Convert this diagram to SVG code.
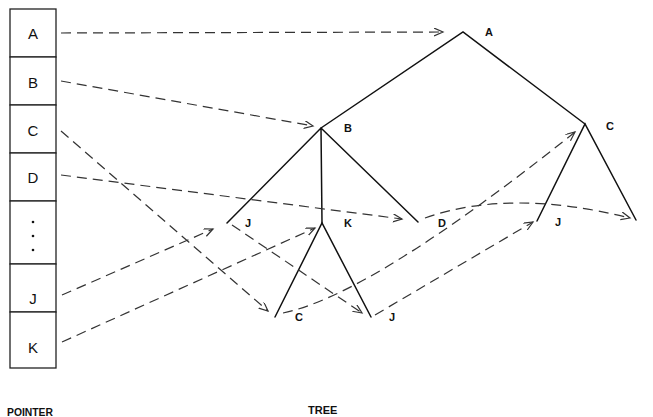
<svg xmlns="http://www.w3.org/2000/svg" width="653" height="417" viewBox="0 0 653 417">
<style>
.cell{fill:#fff;stroke:#222;stroke-width:1.3}
.ct{font-family:"Liberation Sans",Arial,sans-serif;font-size:15px;fill:#111;text-anchor:middle}
.edge{stroke:#111;stroke-width:1.5;fill:none;stroke-linecap:round}
.nl{font-family:"Liberation Sans",Arial,sans-serif;font-size:11px;font-weight:bold;fill:#111}
.ptr{stroke:#333;stroke-width:1.2;fill:none;stroke-dasharray:10 6;marker-end:url(#ah)}
.cap{font-family:"Liberation Sans",Arial,sans-serif;font-size:11px;font-weight:bold;fill:#111}
</style>
<defs>
<marker id="ah" markerUnits="userSpaceOnUse" markerWidth="12" markerHeight="10" refX="9" refY="4" orient="auto">
<path d="M0,0 L9,4 L0,8" fill="none" stroke="#333" stroke-width="1.2"/>
</marker>
</defs>
<rect width="653" height="417" fill="#fff"/>
<g id="pointer">
<rect class="cell" x="10" y="9" width="46" height="48"/>
<rect class="cell" x="10" y="57" width="46" height="48"/>
<rect class="cell" x="10" y="105" width="46" height="48"/>
<rect class="cell" x="10" y="153" width="46" height="48"/>
<rect class="cell" x="10" y="201" width="46" height="63"/>
<rect class="cell" x="10" y="264" width="46" height="48"/>
<rect class="cell" x="10" y="312" width="46" height="56"/>
<text class="ct" x="33" y="39">A</text>
<text class="ct" x="33" y="88">B</text>
<text class="ct" x="33" y="136">C</text>
<text class="ct" x="33" y="183">D</text>
<circle cx="33" cy="222" r="1.3" fill="#111"/>
<circle cx="33" cy="236" r="1.3" fill="#111"/>
<circle cx="33" cy="250" r="1.3" fill="#111"/>
<text class="ct" x="33" y="304">J</text>
<text class="ct" x="33" y="353">K</text>
</g>
<g id="tree">
<path class="edge" d="M321,128 L463,32 L585,124"/>
<path class="edge" d="M227,223 L321,128 L418,222 M321,128 L322,223"/>
<path class="edge" d="M275,317 L322,223 L371,317"/>
<path class="edge" d="M537,221 L585,124 L636,220"/>
<text class="nl" x="485" y="36">A</text>
<text class="nl" x="344" y="132">B</text>
<text class="nl" x="606" y="130">C</text>
<text class="nl" x="245" y="227">J</text>
<text class="nl" x="344" y="227">K</text>
<text class="nl" x="438" y="227">D</text>
<text class="nl" x="295" y="321">C</text>
<text class="nl" x="389" y="321">J</text>
<text class="nl" x="555" y="226">J</text>
</g>
<g id="connectors">
<path class="ptr" d="M61,33 L443,32"/>
<path class="ptr" d="M61,81 L313,126"/>
<path class="ptr" d="M61,131 L268,311"/>
<path class="ptr" d="M61,175 L402,219"/>
<path class="ptr" d="M62,295 L213,229"/>
<path class="ptr" d="M62,342 L315,228"/>
<path class="ptr" d="M232,225 L362,313"/>
<path class="ptr" d="M283,313 Q371,295 575,132"/>
<path class="ptr" d="M425,218 Q510,188 630,218"/>
<path class="ptr" d="M375,315 L533,222"/>
</g>
<text class="cap" x="7" y="416" textLength="46" lengthAdjust="spacingAndGlyphs">POINTER</text>
<text class="cap" x="308" y="414">TREE</text>
</svg>
